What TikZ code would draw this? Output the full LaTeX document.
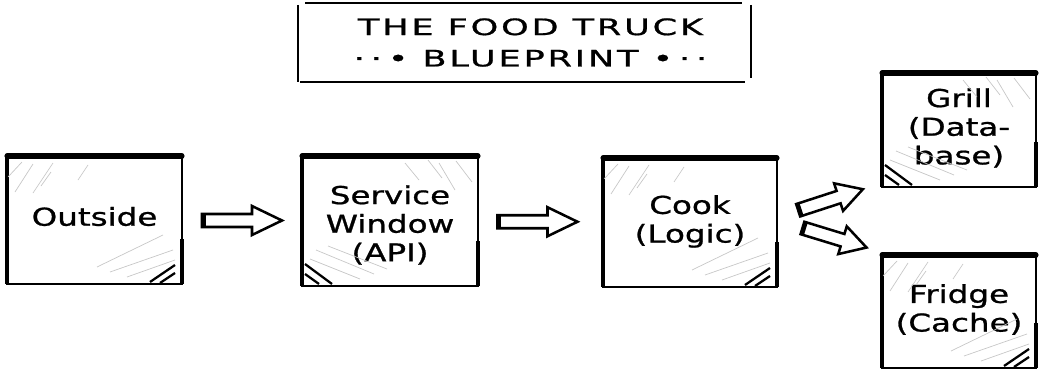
\documentclass[tikz,border=0pt]{standalone}
\usepackage{fontspec}
\setmainfont[FakeBold=0.8]{DejaVu Sans}
\newfontfamily\titlefont[LetterSpace=8,FakeBold=0.8]{DejaVu Sans}
\usepackage{graphicx}
\usetikzlibrary{calc}
\tikzset{
  boxfont/.style={font=\fontsize{18.5}{21.5}\selectfont, inner sep=0pt},
  box/.style={draw, line width=1.4pt, fill=white, inner sep=0pt, outer sep=0pt, boxfont},
  topedge/.style={line width=3.8pt, line cap=round},
  sideedge/.style={line width=2.6pt},
  hatchg/.style={gray!45, line width=0.5pt},
  hatchk/.style={black, line width=1.7pt},
  titleline/.style={line width=1.6pt},
  arrowline/.style={draw, fill=white, line width=1.9pt, line join=miter},
  pics/barrow/.style={code={
    \path[arrowline] ({-#1/2},-6.5) -- ({#1/2-0.375*#1},-6.5) -- ({#1/2-0.375*#1},-14.5)
      -- ({#1/2},0) -- ({#1/2-0.375*#1},14.5) -- ({#1/2-0.375*#1},6.5) -- ({-#1/2},6.5) -- cycle;
    \draw[line width=3pt] ({-#1/2+1.5},-6.5) -- ({-#1/2+1.5},6.5);
  }}
}
\newcommand\boxtext[1]{\scalebox{1.32}[1]{\begin{tabular}{@{}c@{}}#1\end{tabular}}}
\newcommand\sketchedges[1]{%
  \draw[topedge] (#1.north west) -- (#1.north east);
  \draw[sideedge] (#1.north west) -- (#1.south west);
  \draw[sideedge] ([shift={(0,45)}]#1.south east) -- (#1.south east);}
\newcommand\hatchTL[1]{%
  \draw[hatchg] ([shift={(1,-21)}]#1.north west) -- ([shift={(15,-6)}]#1.north west);
  \draw[hatchg] ([shift={(8,-36)}]#1.north west) -- ([shift={(26,-8)}]#1.north west);
  \draw[hatchg] ([shift={(26,-37)}]#1.north west) -- ([shift={(46,-7)}]#1.north west);
  \draw[hatchg] ([shift={(34,-30)}]#1.north west) -- ([shift={(44,-16)}]#1.north west);
  \draw[hatchg] ([shift={(71,-24)}]#1.north west) -- ([shift={(81,-9)}]#1.north west);}
\newcommand\hatchBR[1]{%
  \draw[hatchg] ([shift={(-85,17)}]#1.south east) -- ([shift={(-19,49)}]#1.south east);
  \draw[hatchg] ([shift={(-72,12)}]#1.south east) -- ([shift={(-9,34)}]#1.south east);
  \draw[hatchg] ([shift={(-55,7)}]#1.south east) -- ([shift={(-7,24)}]#1.south east);
  \draw[hatchk] ([shift={(-32,2)}]#1.south east) -- ([shift={(-7,19)}]#1.south east);
  \draw[hatchk] ([shift={(-22,1)}]#1.south east) -- ([shift={(-7,11)}]#1.south east);}
\newcommand\hatchTR[1]{%
  \draw[hatchg] ([shift={(-73,-7)}]#1.north east) -- ([shift={(-59,-24)}]#1.north east);
  \draw[hatchg] ([shift={(-50,-4)}]#1.north east) -- ([shift={(-36,-22)}]#1.north east);
  \draw[hatchg] ([shift={(-39,-7)}]#1.north east) -- ([shift={(-23,-34)}]#1.north east);
  \draw[hatchg] ([shift={(-22,-5)}]#1.north east) -- ([shift={(-6,-26)}]#1.north east);}
\newcommand\hatchBL[1]{%
  \draw[hatchg] ([shift={(8,27)}]#1.south west) -- ([shift={(58,7)}]#1.south west);
  \draw[hatchg] ([shift={(14,36)}]#1.south west) -- ([shift={(72,12)}]#1.south west);
  \draw[hatchg] ([shift={(26,40)}]#1.south west) -- ([shift={(85,17)}]#1.south west);
  \draw[hatchk] ([shift={(3,22)}]#1.south west) -- ([shift={(30,2)}]#1.south west);
  \draw[hatchk] ([shift={(3,12)}]#1.south west) -- ([shift={(17,2)}]#1.south west);}
\begin{document}
\begin{tikzpicture}[x=0.75pt,y=0.75pt]
\useasboundingbox (0,0) rectangle (1042,372);
% title
\node[inner sep=0pt, outer sep=0pt, minimum width=453*0.75pt, minimum height=79*0.75pt] (title) at (524.5,329.5) {};
\node[inner sep=0pt] (titletext) at ([shift={(6,-2)}]title.center)
  {\titlefont\fontsize{17}{23.5}\selectfont\scalebox{1.55}[1]{\begin{tabular}{@{}c@{}}THE FOOD TRUCK\\ ·\,·\,•\ BLUEPRINT\ •\,·\,·\end{tabular}}};
\draw[titleline] ([shift={(7,0)}]title.north west) -- ([shift={(-9,0)}]title.north east);
\draw[titleline] ([shift={(2,0)}]title.south west) -- ([shift={(-6,0)}]title.south east);
\draw[titleline] ([shift={(0,-2)}]title.north west) -- (title.south west);
\draw[titleline] ([shift={(0,-2)}]title.north east) -- ([shift={(0,4)}]title.south east);
% boxes
\node[box, minimum width=175*0.75pt, minimum height=128*0.75pt] (outside) at (94.5,152) {\boxtext{Outside}};
\node[box, minimum width=176*0.75pt, minimum height=130*0.75pt] (service) at (390,151) {};
\node[boxfont] (servicetext) at ([shift={(0,-6)}]service.center) {\boxtext{Service\\Window\\(API)}};
\node[box, minimum width=174*0.75pt, minimum height=129*0.75pt] (cook) at (690,149.5) {\boxtext{Cook\\(Logic)}};
\node[box, minimum width=154*0.75pt, minimum height=114*0.75pt] (grill) at (959,242) {\boxtext{Grill\\(Data-\\base)}};
\node[box, minimum width=154*0.75pt, minimum height=113*0.75pt] (fridge) at (959,60.5) {\boxtext{Fridge\\(Cache)}};
\sketchedges{outside}\sketchedges{service}\sketchedges{cook}\sketchedges{grill}\sketchedges{fridge}
\hatchTL{outside}\hatchBR{outside}
\hatchTR{service}\hatchBL{service}
\hatchTL{cook}\hatchBR{cook}
\hatchTR{grill}\hatchBL{grill}
\hatchTL{fridge}\hatchBR{fridge}
% arrows
\pic at ($(outside.east)!0.5!(service.west)$) {barrow=80};
\pic at ($(service.east)!0.5!(cook.west)+(-3,0)$) {barrow=80};
\pic[rotate=18] at ($(cook.east)!0.5!(grill.south west)+(1,5)$) {barrow=68};
\pic[rotate=-17] at ($(cook.east)!0.5!(fridge.north west)+(5,1)$) {barrow=67};
\end{tikzpicture}
\end{document}
